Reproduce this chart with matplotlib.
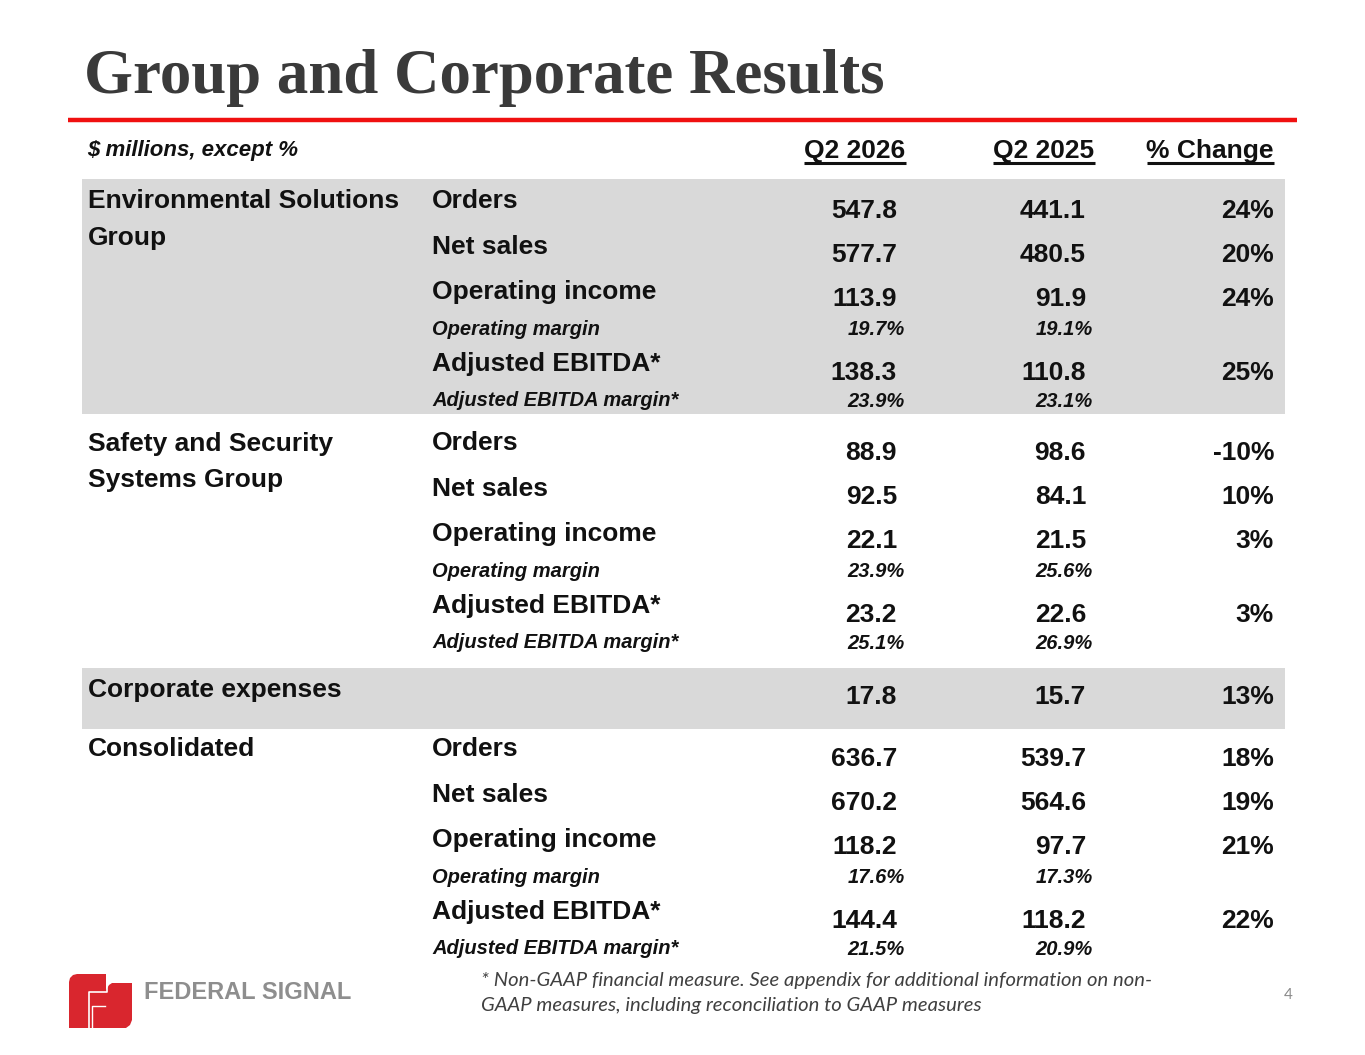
import matplotlib
matplotlib.use('Agg')
import matplotlib.pyplot as plt
from matplotlib.patches import Rectangle, Polygon

# table data
groups = [['Environmental Solutions', 'Group'], ['Safety and Security', 'Systems Group'],
          ['Corporate expenses'], ['Consolidated']]
metrics = ['Orders', 'Net sales', 'Operating income', 'Operating margin', 'Adjusted EBITDA*', 'Adjusted EBITDA margin*']
headers = ['Q2 2026', 'Q2 2025', '% Change']

esg_2026 = [547.8, 577.7, 113.9, 19.7, 138.3, 23.9]
esg_2025 = [441.1, 480.5, 91.9, 19.1, 110.8, 23.1]
esg_chg = [24, 20, 24, None, 25, None]

ssg_2026 = [88.9, 92.5, 22.1, 23.9, 23.2, 25.1]
ssg_2025 = [98.6, 84.1, 21.5, 25.6, 22.6, 26.9]
ssg_chg = [-10, 10, 3, None, 3, None]

corp_2026, corp_2025, corp_chg = 17.8, 15.7, 13

cons_2026 = [636.7, 670.2, 118.2, 17.6, 144.4, 21.5]
cons_2025 = [539.7, 564.6, 97.7, 17.3, 118.2, 20.9]
cons_chg = [18, 19, 21, None, 22, None]

margin_rows = {3, 5}

W, H = 1365, 1055
fig = plt.figure(figsize=(W / 100, H / 100), dpi=100)
ax = fig.add_axes([0, 0, 1, 1])
ax.set_xlim(0, W); ax.set_ylim(H, 0); ax.axis('off')

SANS = 'Liberation Sans'
TXT = '#111111'
BIG = 19
SMALL = 14.5

# title and red rule
ax.text(84, 93, 'Group and Corporate Results', fontsize=45.3, fontweight='bold',
        family='Liberation Serif', color='#3a3a3a', va='baseline', ha='left')
ax.plot([68, 1297], [120, 120], color='#f01010', lw=3.2, solid_capstyle='butt')

# gray bands
ax.add_patch(Rectangle((82, 179), 1203, 235, color='#d9d9d9', lw=0, zorder=0))
ax.add_patch(Rectangle((82, 668), 1203, 61, color='#d9d9d9', lw=0, zorder=0))

# header
ax.text(87, 156, '$ millions, except %', fontsize=16, fontweight='bold', style='italic',
        family=SANS, color=TXT, va='baseline')
fig.canvas.draw()
rend = fig.canvas.get_renderer()
hx = [855, 1044, 1274]
has = ['center', 'center', 'right']
for x, h, ha in zip(hx, headers, has):
    t = ax.text(x, 158, h, fontsize=BIG, fontweight='bold', family=SANS, color=TXT,
                va='baseline', ha=ha)
    bb = t.get_window_extent(rend).transformed(ax.transData.inverted())
    ax.plot([bb.x0, bb.x1], [163, 163], color=TXT, lw=2.2, solid_capstyle='butt')

lab_off = [0, 45, 90, 129, 162, 200]
val_off = [9, 53, 98, 129, 171, 201]
X_GRP, X_MET = 88, 432
X_V1, X_V2, X_CH = 897, 1086, 1274
X_M1, X_M2 = 905, 1093


def group_label(y0, lines):
    for k, s in enumerate(lines):
        ax.text(X_GRP, y0 + 9.5 + 36 * k, s, fontsize=BIG, fontweight='bold', family=SANS,
                color=TXT, va='baseline')


def block(y0, name, v1, v2, ch):
    group_label(y0, name)
    for i, m in enumerate(metrics):
        if i in margin_rows:
            ax.text(X_MET, y0 + lab_off[i] + 7, m, fontsize=SMALL, fontweight='bold',
                    style='italic', family=SANS, color=TXT, va='baseline')
            yv = y0 + val_off[i] + 7
            ax.text(X_M1, yv, f'{v1[i]:.1f}%', fontsize=SMALL, fontweight='bold',
                    style='italic', family=SANS, color=TXT, va='baseline', ha='right')
            ax.text(X_M2, yv, f'{v2[i]:.1f}%', fontsize=SMALL, fontweight='bold',
                    style='italic', family=SANS, color=TXT, va='baseline', ha='right')
        else:
            ax.text(X_MET, y0 + lab_off[i] + 9.5, m, fontsize=BIG, fontweight='bold',
                    family=SANS, color=TXT, va='baseline')
            yv = y0 + val_off[i] + 9.5
            ax.text(X_V1, yv, f'{v1[i]:.1f}', fontsize=BIG, fontweight='bold',
                    family=SANS, color=TXT, va='baseline', ha='right')
            ax.text(X_V2, yv, f'{v2[i]:.1f}', fontsize=BIG, fontweight='bold',
                    family=SANS, color=TXT, va='baseline', ha='right')
            ax.text(X_CH, yv, f'{ch[i]}%', fontsize=BIG, fontweight='bold',
                    family=SANS, color=TXT, va='baseline', ha='right')


block(199, groups[0], esg_2026, esg_2025, esg_chg)
block(441, groups[1], ssg_2026, ssg_2025, ssg_chg)

# corporate expenses row
group_label(687, groups[2])
for x, v in [(X_V1, f'{corp_2026:.1f}'), (X_V2, f'{corp_2025:.1f}'), (X_CH, f'{corp_chg}%')]:
    ax.text(x, 695 + 9.5, v, fontsize=BIG, fontweight='bold', family=SANS, color=TXT,
            va='baseline', ha='right')

block(747, groups[3], cons_2026, cons_2025, cons_chg)

# footnote
ax.text(481, 986, '* Non-GAAP financial measure. See appendix for additional information on non-',
        fontsize=14.6, style='italic', family='Lato', color='#404040', va='baseline')
ax.text(481, 1011, 'GAAP measures, including reconciliation to GAAP measures',
        fontsize=14.6, style='italic', family='Lato', color='#404040', va='baseline')
ax.text(1293, 999, '4', fontsize=11, family='Lato', color='#8a8a8a', va='baseline', ha='right')

# logo
red = '#d9262e'
outline = [(69, 1028), (69, 982), (70, 978), (73, 975), (77, 974), (106, 974), (106, 983),
           (132, 983), (132, 1020), (130, 1025), (126, 1028)]
ax.add_patch(Polygon(outline, closed=True, color=red, lw=0))
ax.add_patch(Polygon([(106, 983), (106, 990), (109, 985), (112, 983)], closed=True,
                     color='white', lw=0))
ax.plot([89, 89, 107, 107], [1029, 992, 992, 984], color='white', lw=1.2)
ax.plot([92, 92, 105], [1029, 1006, 1006], color='white', lw=1.0)
ax.text(144, 999, 'FEDERAL SIGNAL', fontsize=17, fontweight='bold', family=SANS,
        color='#8e8e8e', va='baseline')

fig.savefig('out.png', dpi=100)
